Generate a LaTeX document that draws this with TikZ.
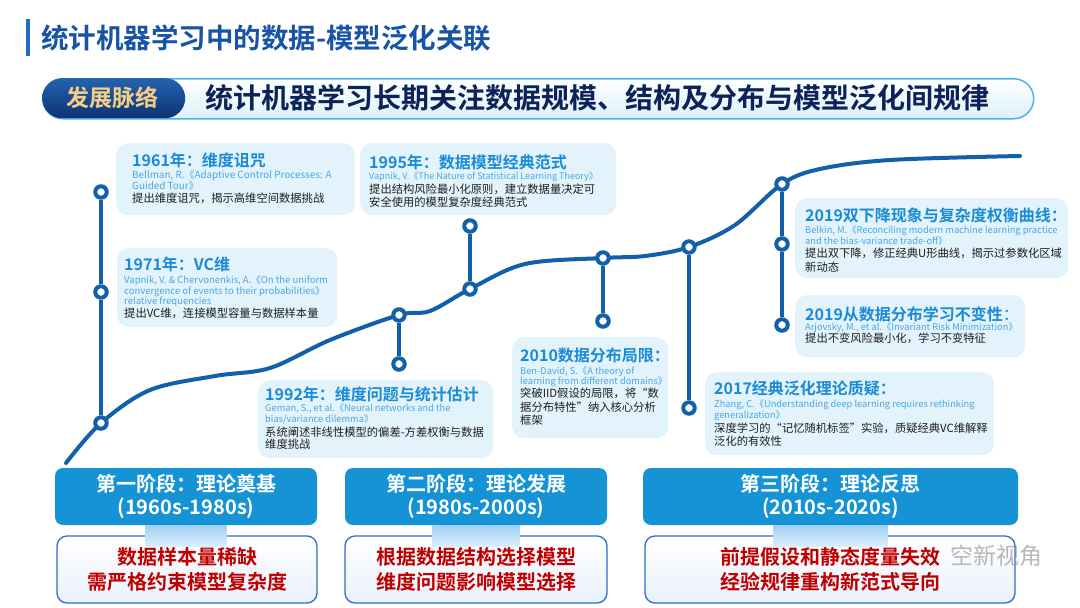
\documentclass[tikz,border=0pt]{standalone}
\usepackage{fontspec}
\setmainfont{Noto Sans CJK SC}[BoldFont={Noto Sans CJK SC Bold}]
\usetikzlibrary{calc}
\definecolor{titlec}{HTML}{1753A6}
\definecolor{barc}{HTML}{1E6FC2}
\definecolor{navy}{HTML}{0B2358}
\definecolor{gold}{HTML}{F4CF84}
\definecolor{pillborder}{HTML}{4DB3E8}
\definecolor{pilllight}{HTML}{DDF1FB}
\definecolor{pilltop}{HTML}{2563B0}
\definecolor{pillbot}{HTML}{0C3274}
\definecolor{boxfill}{HTML}{E2F3FC}
\definecolor{headc}{HTML}{1B8BD5}
\definecolor{citec}{HTML}{4AA7E2}
\definecolor{descc}{HTML}{1E1E1E}
\definecolor{linec}{HTML}{125FAA}
\definecolor{stagec}{HTML}{1593D5}
\definecolor{redc}{HTML}{C00000}
\definecolor{lowborder}{HTML}{2F6DC6}
\definecolor{lowfill}{HTML}{E9F1FB}
\definecolor{conntop}{HTML}{9FD1F2}
\definecolor{connbot}{HTML}{DCEFFB}
\newcommand{\mytxt}[5]{\node[#4] (#1) at (#2,#3) {#5};}
\tikzset{
  infobox/.style={fill=boxfill, draw=none, rounded corners=12pt, anchor=north west, inner sep=0},
  dotnode/.style={circle, draw=linec, line width=4pt, fill=white, minimum size=11.5pt, inner sep=0},
  conn/.style={draw=linec, line width=4pt},
  headt/.style={anchor=base west, inner sep=0, font=\fontsize{16}{16}\selectfont\bfseries, text=headc},
  citet/.style={anchor=base west, inner sep=0, font=\fontsize{9.3}{9.3}\selectfont, text=citec},
  citel/.style={citet, font=\fontsize{9.9}{9.9}\selectfont},
  citem/.style={citet, font=\fontsize{9.5}{9.5}\selectfont},
  cites/.style={citet, font=\fontsize{9.0}{9.0}\selectfont},
  desct/.style={anchor=base west, inner sep=0, font=\fontsize{11.3}{11.3}\selectfont, text=descc},
  stagehead/.style={fill=stagec, rounded corners=8pt, minimum height=57pt, inner sep=0, align=center, text=white, font=\fontsize{20}{23}\selectfont\bfseries},
  stagelow/.style={draw=lowborder, line width=1.3pt, top color=white, bottom color=lowfill, rounded corners=10pt, minimum height=67pt, inner sep=0, align=center, text=redc, font=\fontsize{20}{25}\selectfont\bfseries},
  stageconn/.style={top color=conntop, bottom color=connbot, draw=none, minimum height=21pt, inner sep=0, anchor=north}
}
\begin{document}
\begin{tikzpicture}[x=1pt,y=-1pt]
\useasboundingbox (0,0) rectangle (1080,608);
\fill[white] (0,0) rectangle (1080,608);
% title
\fill[barc] (26,19) rectangle (29.5,56);
\node[anchor=west, inner sep=0, font=\fontsize{27.5}{27.5}\selectfont\bfseries, text=titlec] (title) at (41,38) {统计机器学习中的数据-模型泛化关联};
% header
\node[anchor=north west, draw=pillborder, line width=1.5pt, top color=white, bottom color=pilllight, rounded corners=20pt, minimum width=991pt, minimum height=40pt, inner sep=0] (band) at (42,78) {};
\node[anchor=north west, top color=pilltop, bottom color=pillbot, rounded corners=20pt, minimum width=143pt, minimum height=40pt, inner sep=0] (tag) at (42,78) {};
\node[inner sep=0, font=\fontsize{23}{23}\selectfont\bfseries, text=gold] (tagtext) at (112,98) {发展脉络};
\node[anchor=west, inner sep=0, font=\fontsize{28}{28}\selectfont\bfseries, text=navy] (bandtext) at (205,98) {统计机器学习长期关注数据规模、结构及分布与模型泛化间规律};
% info boxes
\node[infobox, minimum width=239pt, minimum height=72pt] (b61) at (116,143) {};
\node[infobox, minimum width=220pt, minimum height=79pt] (b71) at (117,248) {};
\node[infobox, minimum width=256pt, minimum height=72pt] (b95) at (360,143) {};
\node[infobox, minimum width=235pt, minimum height=78pt] (b92) at (258,380) {};
\node[infobox, minimum width=156pt, minimum height=101pt] (b10) at (512,337) {};
\node[infobox, minimum width=289pt, minimum height=83pt] (b17) at (705,372) {};
\node[infobox, minimum width=273pt, minimum height=80pt] (b19a) at (795,198) {};
\node[infobox, minimum width=230pt, minimum height=62pt] (b19b) at (795,295) {};
% texts 1961
\mytxt{h61}{132}{166}{headt}{1961年：维度诅咒}
\mytxt{c61a}{132}{178.4}{citel}{Bellman, R.《Adaptive Control Processes: A}
\mytxt{c61b}{132}{189.4}{citel}{Guided Tour》}
\mytxt{d61}{132}{202}{desct}{提出维度诅咒，揭示高维空间数据挑战}
% 1971
\mytxt{h71}{124}{270}{headt}{1971年：VC维}
\mytxt{c71a}{124}{283.4}{citem}{Vapnik, V. \& Chervonenkis, A.《On the uniform}
\mytxt{c71b}{124}{294.2}{citem}{convergence of events to their probabilities》}
\mytxt{c71c}{124}{304.8}{citem}{relative frequencies}
\mytxt{d71}{124}{317}{desct}{提出VC维，连接模型容量与数据样本量}
% 1995
\mytxt{h95}{369}{168}{headt}{1995年：数据模型经典范式}
\mytxt{c95a}{369}{179.4}{cites}{Vapnik, V.《The Nature of Statistical Learning Theory》}
\mytxt{d95a}{369}{193}{desct}{提出结构风险最小化原则，建立数据量决定可}
\mytxt{d95b}{369}{206}{desct}{安全使用的模型复杂度经典范式}
% 1992
\mytxt{h92}{265}{400}{headt}{1992年：维度问题与统计估计}
\mytxt{c92a}{265}{411.4}{citet}{Geman, S., et al.《Neural networks and the}
\mytxt{c92b}{265}{422.4}{citet}{bias/variance dilemma》}
\mytxt{d92a}{265}{436}{desct}{系统阐述非线性模型的偏差-方差权衡与数据}
\mytxt{d92b}{265}{448}{desct}{维度挑战}
% 2010
\mytxt{h10}{520}{361}{headt}{2010数据分布局限：}
\mytxt{c10a}{520}{374.4}{citet}{Ben-David, S.《A theory of}
\mytxt{c10b}{520}{384.6}{citet}{learning from different domains》}
\mytxt{d10a}{520}{397.5}{desct}{突破IID假设的局限，将“数}
\mytxt{d10b}{520}{411}{desct}{据分布特性”纳入核心分析}
\mytxt{d10c}{520}{424.5}{desct}{框架}
% 2017
\mytxt{h17}{714}{394}{headt}{2017经典泛化理论质疑：}
\mytxt{c17a}{714}{407.4}{citet}{Zhang, C.《Understanding deep learning requires rethinking}
\mytxt{c17b}{714}{418.4}{citet}{generalization》}
\mytxt{d17a}{714}{432}{desct}{深度学习的“记忆随机标签”实验，质疑经典VC维解释}
\mytxt{d17b}{714}{445}{desct}{泛化的有效性}
% 2019a
\mytxt{h19a}{805}{221}{headt}{2019双下降现象与复杂度权衡曲线：}
\mytxt{c19a}{805}{233.4}{citet}{Belkin, M.《Reconciling modern machine learning practice}
\mytxt{c19b}{805}{244.4}{citet}{and the bias-variance trade-off》}
\mytxt{d19a}{805}{257}{desct}{提出双下降，修正经典U形曲线，揭示过参数化区域}
\mytxt{d19b}{805}{271}{desct}{新动态}
% 2019b
\mytxt{h19b}{805}{320}{headt}{2019从数据分布学习不变性{\mdseries ：}}
\mytxt{c19c}{805}{330.4}{citet}{Arjovsky, M., et al.《Invariant Risk Minimization》}
\mytxt{d19c}{805}{342}{desct}{提出不变风险最小化，学习不变特征}
% timeline coordinates
\coordinate (p0) at (66,463);
\coordinate (p1) at (101,423);
\coordinate (p2) at (399,315);
\coordinate (p3) at (470,289);
\coordinate (p4) at (603,258);
\coordinate (p5) at (689,247);
\coordinate (p6) at (782,184);
\coordinate (pend) at (1020,156);
\draw[linec, line width=4pt, line cap=round] plot[smooth, tension=0.55] coordinates {(p0) (p1) (150,390) (215,376) (270,368) (330,340) (p2) (430,311) (p3) (525,264) (p4) (645,256) (p5) (735,225) (p6) (820,169) (890,160) (pend)};
% dots on curve
\node[dotnode] (n1) at (p1) {};
\node[dotnode] (n2) at (p2) {};
\node[dotnode] (n3) at (p3) {};
\node[dotnode] (n4) at (p4) {};
\node[dotnode] (n5) at (p5) {};
\node[dotnode] (n6) at (p6) {};
% stem dots
\node[dotnode] (m1a) at (101,192) {};
\node[dotnode] (m1b) at (101,292) {};
\node[dotnode] (m2) at (399,364) {};
\node[dotnode] (m3) at (470,226) {};
\node[dotnode] (m4) at (603,321) {};
\node[dotnode] (m5) at (689,408) {};
\node[dotnode] (m6a) at (782,244) {};
\node[dotnode] (m6b) at (782,325) {};
% stems
\draw[conn] (n1) -- (m1b);
\draw[conn] (m1b) -- (m1a);
\draw[conn] (n2) -- (m2);
\draw[conn] (n3) -- (m3);
\draw[conn] (n4) -- (m4);
\draw[conn] (n5) -- (m5);
\draw[conn] (n6) -- (m6a);
\draw[conn] (m6a) -- (m6b);
% stages
\node[stagehead, minimum width=262pt] (s1) at (186,496.5) {第一阶段：理论奠基\\(1960s-1980s)};
\node[stagehead, minimum width=262pt] (s2) at (476,496.5) {第二阶段：理论发展\\(1980s-2000s)};
\node[stagehead, minimum width=375pt] (s3) at (830.5,496.5) {第三阶段：理论反思\\(2010s-2020s)};
\node[stagelow, minimum width=260pt] (l1) at (187,569.5) {数据样本量稀缺\\需严格约束模型复杂度};
\node[stagelow, minimum width=262pt] (l2) at (476,569.5) {根据数据结构选择模型\\维度问题影响模型选择};
\node[stagelow, minimum width=370pt] (l3) at (830,569.5) {前提假设和静态度量失效\\经验规律重构新范式导向};
\node[stageconn, minimum width=81pt] (k1) at (s1.south) {};
\node[stageconn, minimum width=87pt] (k2) at (s2.south) {};
\node[stageconn, minimum width=114pt] (k3) at (s3.south) {};
% watermark
\node[anchor=west, inner sep=0, font=\fontsize{23}{23}\selectfont, text=gray, opacity=0.55] (wm) at (950,556) {空新视角};
\end{tikzpicture}
\end{document}
